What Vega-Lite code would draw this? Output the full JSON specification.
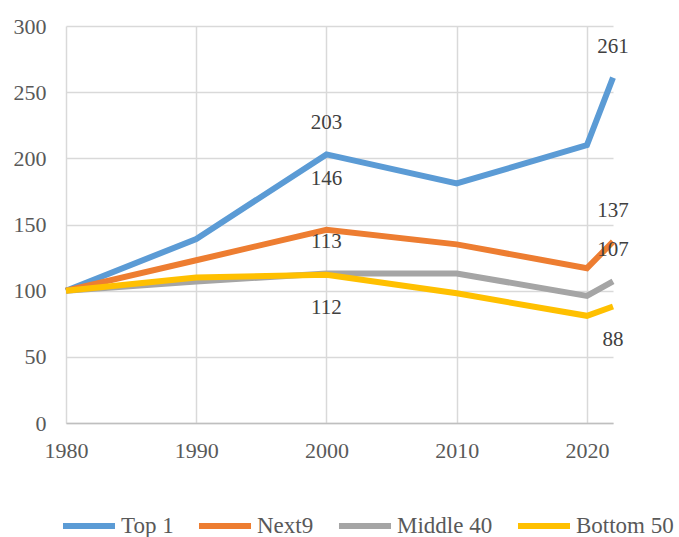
{
  "$schema": "https://vega.github.io/schema/vega-lite/v6.json",
  "width": 547,
  "height": 397,
  "autosize": "none",
  "padding": {"left": 66, "top": 26, "right": 66, "bottom": 114},
  "background": "white",
  "config": {
    "view": {"stroke": null},
    "font": "Liberation Serif",
    "axis": {"labelFont": "Liberation Serif", "labelFontSize": 22, "labelColor": "#595959", "gridColor": "#d9d9d9", "gridWidth": 1.5, "ticks": false, "title": null},
    "legend": {"labelFont": "Liberation Serif", "labelFontSize": 23, "labelColor": "#595959"},
    "style": {"guide-label": {"font": "Liberation Serif", "fontWeight": "normal"}}
  },
  "data": {
    "values": [
      {"year": 1980, "group": "Top 1", "value": 100},
      {"year": 1990, "group": "Top 1", "value": 139},
      {"year": 2000, "group": "Top 1", "value": 203},
      {"year": 2010, "group": "Top 1", "value": 181},
      {"year": 2020, "group": "Top 1", "value": 210},
      {"year": 2022, "group": "Top 1", "value": 261},
      {"year": 1980, "group": "Next9", "value": 100},
      {"year": 1990, "group": "Next9", "value": 123},
      {"year": 2000, "group": "Next9", "value": 146},
      {"year": 2010, "group": "Next9", "value": 135},
      {"year": 2020, "group": "Next9", "value": 117},
      {"year": 2022, "group": "Next9", "value": 137},
      {"year": 1980, "group": "Middle 40", "value": 100},
      {"year": 1990, "group": "Middle 40", "value": 107},
      {"year": 2000, "group": "Middle 40", "value": 113},
      {"year": 2010, "group": "Middle 40", "value": 113},
      {"year": 2020, "group": "Middle 40", "value": 96},
      {"year": 2022, "group": "Middle 40", "value": 107},
      {"year": 1980, "group": "Bottom 50", "value": 100},
      {"year": 1990, "group": "Bottom 50", "value": 110},
      {"year": 2000, "group": "Bottom 50", "value": 112},
      {"year": 2010, "group": "Bottom 50", "value": 98},
      {"year": 2020, "group": "Bottom 50", "value": 81},
      {"year": 2022, "group": "Bottom 50", "value": 88}
    ]
  },
  "encoding": {
    "x": {
      "field": "year", "type": "quantitative",
      "scale": {"domain": [1980, 2022], "nice": false, "zero": false},
      "axis": {"values": [1980, 1990, 2000, 2010, 2020], "format": "d", "labelPadding": 17, "domainColor": "#bfbfbf", "domainWidth": 1.5, "labelFlush": false}
    },
    "y": {
      "field": "value", "type": "quantitative",
      "scale": {"domain": [0, 300], "nice": false},
      "axis": {"values": [0, 50, 100, 150, 200, 250, 300], "labelPadding": 20, "domain": false}
    }
  },
  "layer": [
    {
      "mark": {"type": "line", "strokeWidth": 6, "strokeCap": "butt", "strokeJoin": "miter"},
      "encoding": {
        "color": {
          "field": "group", "type": "nominal",
          "scale": {"domain": ["Top 1", "Next9", "Middle 40", "Bottom 50"], "range": ["#5B9BD5", "#ED7D31", "#A5A5A5", "#FFC000"]},
          "legend": {
            "title": null, "orient": "none", "direction": "horizontal",
            "legendX": 8, "legendY": 485,
            "symbolType": "M-2.167,0H2.167", "symbolStrokeWidth": 6, "symbolSize": 576, "symbolStrokeCap": "round",
            "labelFont": "Liberation Serif", "labelFontSize": 23, "labelColor": "#595959", "labelFontWeight": "normal",
            "labelOffset": 17, "columnPadding": 12
          }
        },
        "order": {"field": "year"}
      }
    },
    {
      "transform": [{"filter": "(datum.year == 2000 && (datum.group == 'Top 1' || datum.group == 'Middle 40')) || (datum.year == 2022 && datum.group != 'Bottom 50')"}],
      "mark": {"type": "text", "dy": -31, "fontSize": 21, "color": "#404040", "font": "Liberation Serif"},
      "encoding": {"text": {"field": "value", "type": "quantitative"}}
    },
    {
      "transform": [{"filter": "datum.year == 2000 && datum.group == 'Next9'"}],
      "mark": {"type": "text", "dy": -51, "fontSize": 21, "color": "#404040", "font": "Liberation Serif"},
      "encoding": {"text": {"field": "value", "type": "quantitative"}}
    },
    {
      "transform": [{"filter": "(datum.year == 2000 || datum.year == 2022) && datum.group == 'Bottom 50'"}],
      "mark": {"type": "text", "dy": 33, "fontSize": 21, "color": "#404040", "font": "Liberation Serif"},
      "encoding": {"text": {"field": "value", "type": "quantitative"}}
    }
  ]
}
